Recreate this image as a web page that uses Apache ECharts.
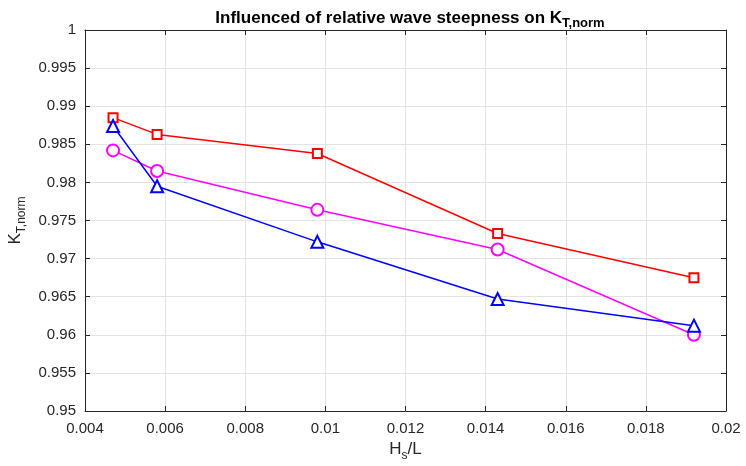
<!DOCTYPE html>
<html><head><meta charset="utf-8">
<script src="https://cdn.jsdelivr.net/npm/echarts@6/dist/echarts.min.js"></script>
<style>html,body{margin:0;padding:0;background:#fff}#c{width:746px;height:466px}</style>
</head><body><div id="c"></div>
<script>
const steepness = [0.0047, 0.0058, 0.0098, 0.0143, 0.0192];
const kRed = [0.9885, 0.9863, 0.9838, 0.9733, 0.9675];
const kBlue = [0.9874, 0.9795, 0.9722, 0.9647, 0.9612];
const kMagenta = [0.9842, 0.9815, 0.9764, 0.9712, 0.9600];

const FONT = 'Liberation Sans, Arial, Helvetica, sans-serif';
const AX = '#262626';
const pairs = (xs, ys) => xs.map((x, i) => [x, ys[i]]);

const chart = echarts.init(document.getElementById('c'));
const base = {
  axisLine: { show: true, lineStyle: { color: AX, width: 1 } },
  axisTick: { show: true, inside: true, length: 5, lineStyle: { color: AX } },
  splitLine: { show: false },
};
chart.setOption({
  animation: false,
  backgroundColor: '#fff',
  title: {
    text: 'Influenced of relative wave steepness on K{sub|T,norm}',
    left: 405, textAlign: 'center', top: 1,
    textStyle: { fontFamily: FONT, fontSize: 17, fontWeight: 'bold', color: '#000',
      rich: { sub: { fontFamily: FONT, fontSize: 13, fontWeight: 'bold', color: '#000', padding: [11, 0, 0, 0] } } }
  },
  grid: { left: 85, right: 20, top: 30, bottom: 55, containLabel: false, outerBoundsMode: 'none' },
  xAxis: [
    Object.assign({}, base, {
      type: 'value', min: 0.004, max: 0.02, interval: 0.002, position: 'bottom',
      axisLabel: { fontFamily: FONT, fontSize: 15, color: AX, margin: 10 },
      splitLine: { show: true, lineStyle: { color: '#e3e3e3' } },
      name: 'H{sub|s}/L', nameLocation: 'middle', nameGap: 26,
      nameTextStyle: { fontFamily: FONT, fontSize: 17, color: AX,
        rich: { sub: { fontFamily: FONT, fontSize: 12, color: AX, padding: [12, 0, 0, 0] } } }
    }),
    Object.assign({}, base, {
      type: 'value', min: 0.004, max: 0.02, interval: 0.002, position: 'top',
      axisLabel: { show: false }
    })
  ],
  yAxis: [
    Object.assign({}, base, {
      type: 'value', min: 0.95, max: 1, interval: 0.005, position: 'left',
      axisLabel: { fontFamily: FONT, fontSize: 15, color: AX, margin: 9 },
      splitLine: { show: true, lineStyle: { color: '#e3e3e3' } },
      name: 'K{sub|T,norm}', nameLocation: 'middle', nameGap: 55, nameRotate: 90,
      nameTextStyle: { fontFamily: FONT, fontSize: 17, color: AX,
        rich: { sub: { fontFamily: FONT, fontSize: 12, color: AX, padding: [12, 0, 0, 0] } } }
    }),
    Object.assign({}, base, {
      type: 'value', min: 0.95, max: 1, interval: 0.005, position: 'right',
      axisLabel: { show: false }
    })
  ],
  series: [
    { type: 'line', data: pairs(steepness, kRed), symbol: 'emptyRect', symbolSize: 9,
      lineStyle: { color: '#ff0000', width: 1.5 }, itemStyle: { color: '#ff0000', borderWidth: 1.5 } },
    { type: 'line', data: pairs(steepness, kMagenta), symbol: 'emptyCircle', symbolSize: 12,
      lineStyle: { color: '#ff00ff', width: 1.5 }, itemStyle: { color: '#ff00ff', borderWidth: 1.5 } },
    { type: 'line', data: pairs(steepness, kBlue), symbol: 'emptyTriangle', symbolSize: 12,
      lineStyle: { color: '#0000ff', width: 1.5 }, itemStyle: { color: '#0000ff', borderWidth: 1.5 } }
  ]
});
</script></body></html>
